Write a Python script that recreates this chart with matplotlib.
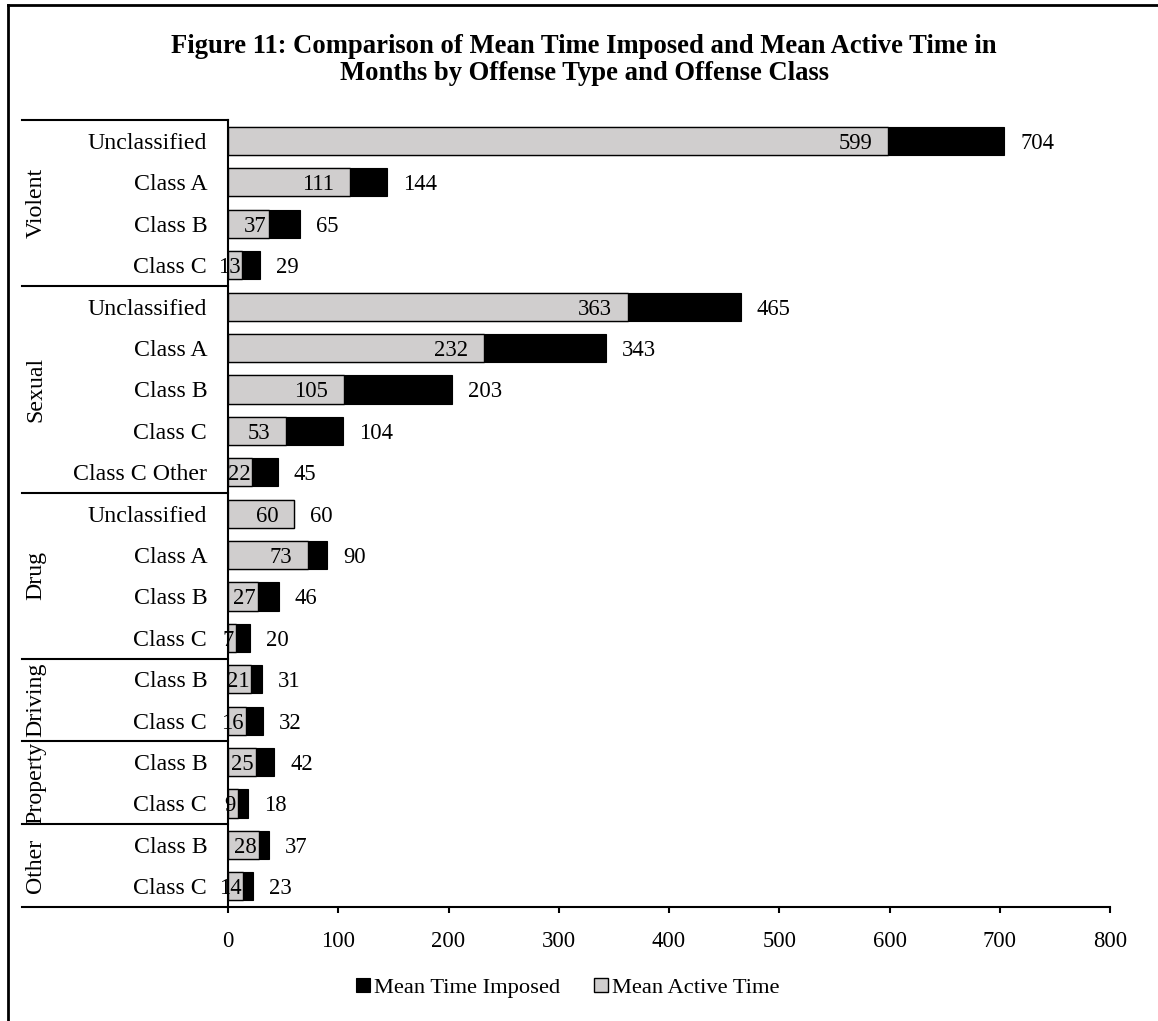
import matplotlib
matplotlib.use("Agg")
import matplotlib.pyplot as plt
import matplotlib.transforms as mtransforms
from matplotlib.lines import Line2D

plt.rcParams['font.family'] = ['Liberation Serif', 'DejaVu Serif']

# Offense types and their classes (top to bottom)
groups = ["Violent", "Sexual", "Drug", "Driving", "Property", "Other"]
group_sizes = [4, 5, 4, 2, 2, 2]
categories = [
    "Unclassified", "Class A", "Class B", "Class C",
    "Unclassified", "Class A", "Class B", "Class C", "Class C Other",
    "Unclassified", "Class A", "Class B", "Class C",
    "Class B", "Class C",
    "Class B", "Class C",
    "Class B", "Class C",
]
mean_time_imposed = [704, 144, 65, 29,
                     465, 343, 203, 104, 45,
                     60, 90, 46, 20,
                     31, 32,
                     42, 18,
                     37, 23]
mean_active_time = [599, 111, 37, 13,
                    363, 232, 105, 53, 22,
                    60, 73, 27, 7,
                    21, 16,
                    25, 9,
                    28, 14]
x_ticks = [0, 100, 200, 300, 400, 500, 600, 700, 800]

W, H = 1158, 1021
fig = plt.figure(figsize=(W / 100, H / 100), dpi=100)
ax = fig.add_axes([228 / W, 1 - 907 / H, (1110 - 228) / W, (907 - 120.3) / H])

ypos = list(range(len(categories)))
bar_h = 0.68
grey = "#D0CECE"

ax.barh(ypos, mean_time_imposed, height=bar_h, color="black", edgecolor="black",
        linewidth=0.8, label="Mean Time Imposed", zorder=2)
ax.barh(ypos, mean_active_time, height=bar_h, color=grey, edgecolor="black",
        linewidth=1.0, label="Mean Active Time", zorder=3)

val_fs = 16.3
for y, imp, act in zip(ypos, mean_time_imposed, mean_active_time):
    ax.annotate(f"{imp}", xy=(imp, y), xytext=(11.5, 0), textcoords="offset points",
                ha="left", va="center_baseline", fontsize=val_fs, zorder=5)
    pad = 11.5 if act >= 45 else 1.4
    ax.annotate(f"{act}", xy=(act, y), xytext=(-pad, 0), textcoords="offset points",
                ha="right", va="center_baseline", fontsize=val_fs, zorder=5)

ax.set_xlim(0, 800)
ax.set_ylim(len(categories) - 0.5, -0.5)
ax.set_xticks(x_ticks)
ax.set_xticklabels([str(t) for t in x_ticks], fontsize=val_fs)
ax.set_yticks(ypos)
ax.set_yticklabels(categories, fontsize=17.2)
ax.tick_params(axis="y", length=0, pad=15)
ax.tick_params(axis="x", direction="out", length=4.5, width=1.5, pad=13)

for side in ("top", "right"):
    ax.spines[side].set_visible(False)
ax.spines["left"].set_linewidth(1.5)
ax.spines["bottom"].set_linewidth(1.5)

# Group separators and group labels on the left
trans = mtransforms.blended_transform_factory(fig.transFigure, ax.transData)
x0 = 22 / W
x1 = 228 / W
start = 0
bounds = [-0.5]
for g, n in zip(groups, group_sizes):
    end = start + n
    bounds.append(end - 0.5)
    center = (start + end - 1) / 2
    ax.text(36 / W, center, g, transform=trans, rotation=90, ha="center",
            va="center", fontsize=17.2)
    start = end
for b in bounds:
    ax.add_line(Line2D([x0, x1], [b, b], transform=trans, color="black",
                       linewidth=1.5, clip_on=False))

# Title
fig.text(584 / W, 1 - 60 / H,
         "Figure 11: Comparison of Mean Time Imposed and Mean Active Time in\n"
         "Months by Offense Type and Offense Class",
         ha="center", va="center", fontsize=19.2, fontweight="bold",
         multialignment="center", linespacing=1.07)

# Legend
handles, labels = ax.get_legend_handles_labels()
fig.legend(handles, labels, loc="center", bbox_to_anchor=(568 / W, 1 - 988 / H),
           ncol=2, frameon=False, fontsize=16.2, handlelength=0.6, handleheight=0.6,
           handletextpad=0.2, columnspacing=1.5)

# Outer frame (left and top edges)
fig.add_artist(Line2D([8 / W, 8 / W], [0, 1 - 5.5 / H], transform=fig.transFigure,
                      color="black", linewidth=2))
fig.add_artist(Line2D([8 / W, 1], [1 - 5.5 / H, 1 - 5.5 / H], transform=fig.transFigure,
                      color="black", linewidth=2))

fig.savefig("out.png", dpi=100)
